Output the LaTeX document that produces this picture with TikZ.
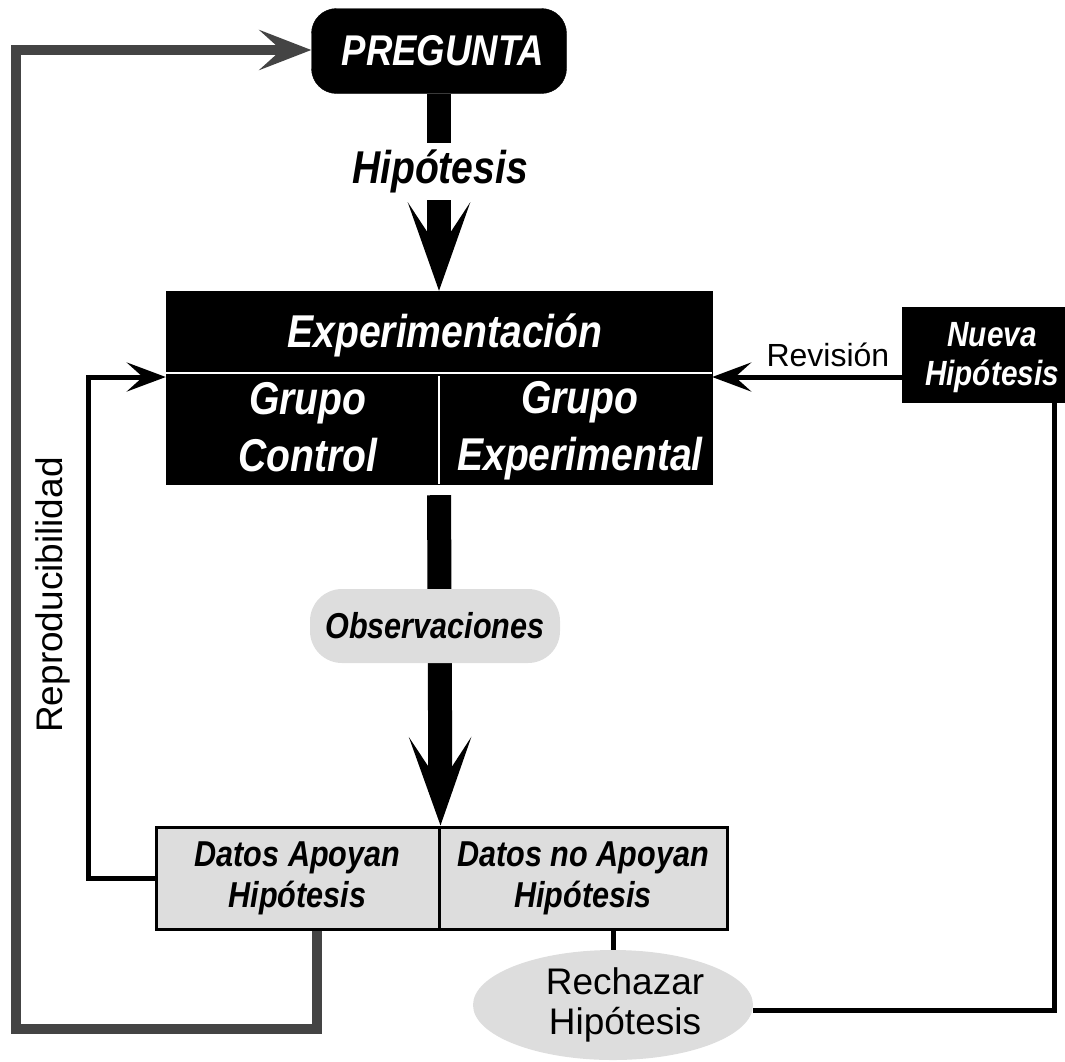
\documentclass[tikz,border=0pt]{standalone}
\usepackage{fontspec}
\setmainfont{Liberation Sans}
\newfontfamily\cond[FakeStretch=0.85]{Liberation Sans}
\usetikzlibrary{arrows.meta,shapes.geometric}
\definecolor{lgray}{HTML}{DDDDDD}
\definecolor{dgray}{HTML}{444444}
\tikzset{
  bi/.style 2 args={font=\cond\bfseries\itshape\fontsize{#1}{#2}\selectfont},
  rg/.style 2 args={font=\fontsize{#1}{#2}\selectfont},
  blackbox/.style={rectangle, fill=black, draw=black, text=white, inner sep=0pt, align=center},
  graybox/.style={rectangle, fill=lgray, draw=black, line width=3pt, inner sep=0pt, align=center},
  bigarrow/.style={line width=24pt, -{Stealth[length=88pt,width=62pt,inset=47pt]}},
  thinarrow/.style={line width=5pt, -{Stealth[length=39pt,width=29pt,inset=16pt]}},
  thinline/.style={line width=5pt},
  grayarrow/.style={line width=10pt, draw=dgray, -{Stealth[length=52pt,width=40pt,inset=22pt]}},
  divider/.style={white, line width=2.5pt}
}
\begin{document}
\begin{tikzpicture}[x=1pt,y=-1pt]
\useasboundingbox (0,0) rectangle (1065,1061);

% nodes
\node[blackbox, rounded corners=25pt, minimum width=255pt, minimum height=85pt,
      label={[name=pregtxt, text=white, bi={43}{50}, xshift=4pt]center:PREGUNTA}] (preg) at (439,51) {};
\node[blackbox, minimum width=546pt, minimum height=193pt] (exp) at (439,387.5) {};
\node[graybox, minimum width=283pt, minimum height=102pt, bi={36}{41}] (apoy) at (297.5,878) {Datos Apoyan\\Hipótesis};
\node[graybox, minimum width=288pt, minimum height=102pt, bi={36}{41}] (noapoy) at (583,878) {Datos no Apoyan\\Hipótesis};
\node[blackbox, minimum width=162pt, minimum height=95pt,
      label={[name=nuevatxt, text=white, align=center, bi={35}{39}, xshift=9pt, yshift=-3pt]center:Nueva\\Hipótesis}] (nueva) at (983,354.5) {};
\node[ellipse, fill=lgray, minimum width=280pt, minimum height=110pt, inner sep=0pt,
      label={[name=rechtxt, align=center, rg={37}{40}, xshift=12pt]center:Rechazar\\Hipótesis}] (rech) at (613,1005) {};
\node[rotate=90, rg={37}{42}] (repro) at (53,595) {Reproducibilidad};

% dividers and texts of the experiment box
\draw[divider] (exp.west |- 0,373) -- (exp.east |- 0,373);
\draw[divider] (exp.south |- 0,376) -- (exp.south);
\node[anchor=base, text=white, bi={46}{57}] (expt) at (445,347) {Experimentación};
\node[text=white, align=center, bi={46}{57}] (gc) at (308,427) {Grupo\\Control};
\node[text=white, align=center, bi={46}{57}] (ge) at (580,431) {Grupo\\Experimental};

% coordinates
\coordinate (g1) at (317,1029);
\coordinate (g2) at (16,1029);
\coordinate (g3) at (16,50);
\coordinate (l1) at (88,878);
\coordinate (l2) at (88,377);
\coordinate (r1) at (1054,1010);

% connectors
\draw[bigarrow] (preg.south) -- (exp.north);
\draw[bigarrow, shorten <=11pt] (exp.south) -- (apoy.north east);
\draw[grayarrow] (g1 |- apoy.south) -- (g1) -- (g2) -- (g3) -- (g3 -| preg.west);
\draw[thinarrow] (apoy.west) -- (l1) -- (l2) -- (l2 -| exp.west);
\draw[thinarrow] (nueva.west |- l2) -- node[above, pos=0.39, inner sep=0pt, yshift=8pt, rg={32}{38}] (rev) {Revisión} (exp.east |- l2);
\draw[thinline] (nueva.south -| r1) -- (r1) -- (rech.east |- r1);
\draw[thinline] (rech.north |- noapoy.south) -- (rech.north);

% labels on the thick arrows
\node[fill=white, inner xsep=4pt, inner ysep=0pt, minimum height=57pt, bi={46}{57}] (hip) at (440,171.5) {Hipótesis};
\node[rectangle, rounded corners=32pt, fill=lgray, minimum width=250pt, minimum height=74pt, inner sep=0pt, bi={36}{42}] (obs) at (435,626) {Observaciones};
\end{tikzpicture}
\end{document}
